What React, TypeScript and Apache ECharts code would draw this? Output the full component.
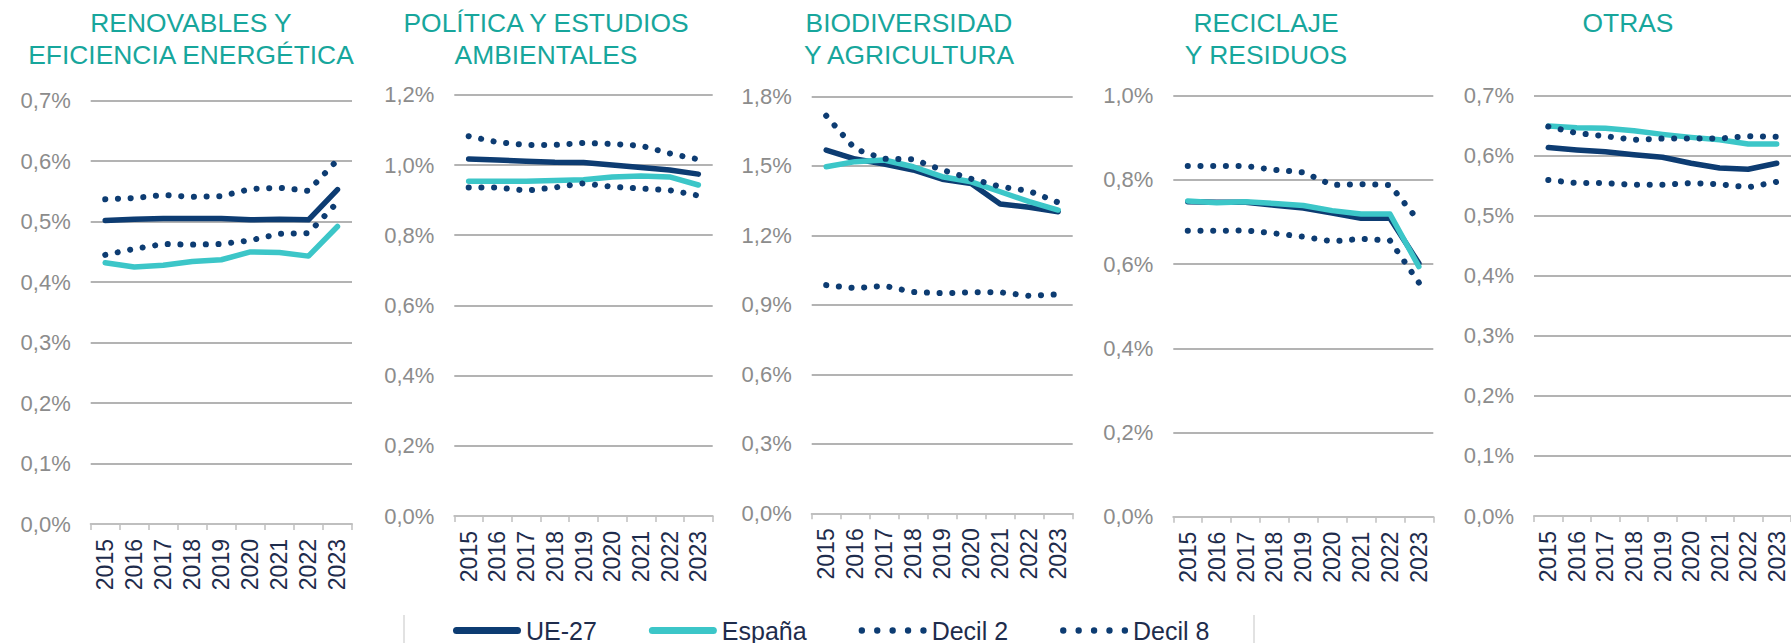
import React, { useEffect, useRef } from "react";
import * as echarts from "echarts";

const YEARS = ["2015", "2016", "2017", "2018", "2019", "2020", "2021", "2022", "2023"];
const SERIES_NAMES = ["UE-27", "España", "Decil 2", "Decil 8"];

const PANEL_TITLES = [
  ["RENOVABLES Y", "EFICIENCIA ENERGÉTICA"],
  ["POLÍTICA Y ESTUDIOS", "AMBIENTALES"],
  ["BIODIVERSIDAD", "Y AGRICULTURA"],
  ["RECICLAJE", "Y RESIDUOS"],
  ["OTRAS"],
];

// Y axis ranges (percent)
const Y_MAX = [0.7, 1.2, 1.8, 1.0, 0.7];
const Y_STEP = [0.1, 0.2, 0.3, 0.2, 0.1];

// Renovables y eficiencia energética
const renovUE = [0.502, 0.504, 0.505, 0.505, 0.505, 0.503, 0.504, 0.503, 0.553];
const renovES = [0.432, 0.425, 0.428, 0.434, 0.437, 0.45, 0.449, 0.443, 0.492];
const renovD2 = [0.537, 0.539, 0.544, 0.541, 0.542, 0.554, 0.556, 0.551, 0.602];
const renovD8 = [0.445, 0.455, 0.463, 0.462, 0.463, 0.469, 0.48, 0.481, 0.532];

// Política y estudios ambientales
const poliUE = [1.017, 1.014, 1.011, 1.008, 1.007, 1.0, 0.993, 0.986, 0.974];
const poliES = [0.954, 0.954, 0.954, 0.956, 0.958, 0.966, 0.969, 0.966, 0.943];
const poliD2 = [1.082, 1.065, 1.057, 1.057, 1.063, 1.06, 1.055, 1.033, 1.016];
const poliD8 = [0.936, 0.936, 0.927, 0.936, 0.948, 0.938, 0.933, 0.928, 0.913];

// Biodiversidad y agricultura
const bioUE = [1.568, 1.529, 1.508, 1.482, 1.442, 1.424, 1.335, 1.321, 1.302];
const bioES = [1.496, 1.518, 1.525, 1.496, 1.453, 1.431, 1.388, 1.345, 1.309];
const bioD2 = [1.716, 1.572, 1.53, 1.528, 1.482, 1.444, 1.41, 1.391, 1.342];
const bioD8 = [0.985, 0.972, 0.982, 0.955, 0.95, 0.954, 0.954, 0.939, 0.945];

// Reciclaje y residuos
const reciUE = [0.748, 0.747, 0.747, 0.74, 0.733, 0.721, 0.709, 0.709, 0.602];
const reciES = [0.75, 0.746, 0.748, 0.744, 0.739, 0.727, 0.719, 0.719, 0.594];
const reciD2 = [0.833, 0.833, 0.833, 0.824, 0.818, 0.788, 0.79, 0.788, 0.702];
const reciD8 = [0.679, 0.679, 0.68, 0.673, 0.665, 0.654, 0.66, 0.656, 0.556];

// Otras
const otrasUE = [0.613, 0.609, 0.606, 0.601, 0.597, 0.587, 0.579, 0.577, 0.587];
const otrasES = [0.649, 0.646, 0.645, 0.641, 0.635, 0.63, 0.626, 0.619, 0.619];
const otrasD2 = [0.648, 0.637, 0.632, 0.626, 0.628, 0.628, 0.628, 0.632, 0.631];
const otrasD8 = [0.559, 0.554, 0.554, 0.551, 0.551, 0.554, 0.552, 0.547, 0.556];

const PANEL_DATA = [
  [renovUE, renovES, renovD2, renovD8],
  [poliUE, poliES, poliD2, poliD8],
  [bioUE, bioES, bioD2, bioD8],
  [reciUE, reciES, reciD2, reciD8],
  [otrasUE, otrasES, otrasD2, otrasD8],
];

// layout (pixels)
const W = 1791;
const H = 643;
const GRIDS = [
  { left: 90.7, right: 352, top: 100.7, bottom: 524 },
  { left: 454.3, right: 712.7, top: 94.8, bottom: 516 },
  { left: 811.7, right: 1072.7, top: 96.3, bottom: 513.3 },
  { left: 1173.3, right: 1433.3, top: 95.7, bottom: 516.7 },
  { left: 1534, right: 1795, top: 95.3, bottom: 516 },
];
const TITLE_X = [191, 546, 909, 1266, 1628];

const NAVY = "#0d3c72";
const TEAL = "#3cc6c8";
const TITLE_COLOR = "#17a69c";
const FONT = "'Liberation Sans', Arial, sans-serif";

const SOLID_ICON = "path://M3.5,0 H64.5 A3.5,3.5 0 0 1 64.5,7 H3.5 A3.5,3.5 0 0 1 3.5,0 Z";
const DOT_ICON =
  "path://" +
  [3, 17.5, 32, 46.5, 61]
    .map((cx) => `M${cx - 3},3 a3,3 0 1,0 6,0 a3,3 0 1,0 -6,0 Z`)
    .join(" ");

export default function App() {
  const ref = useRef<HTMLDivElement>(null);

  useEffect(() => {
    document.body.style.margin = "0";
    if (!ref.current) return;
    const chart = echarts.init(ref.current, null, { renderer: "svg" });

    const grid = GRIDS.map((g) => ({
      left: g.left,
      right: W - g.right,
      top: g.top,
      bottom: H - g.bottom,
      containLabel: false,
    }));

    const xAxis = GRIDS.map((_, i) => ({
      type: "category",
      gridIndex: i,
      data: YEARS,
      boundaryGap: true,
      axisLine: { show: true, lineStyle: { color: "#bfbfbf", width: 2 } },
      axisTick: { show: true, length: 6, lineStyle: { color: "#bfbfbf", width: 1.5 } },
      axisLabel: {
        rotate: 90,
        margin: 15,
        color: "#1e2c4c",
        fontSize: 23,
        fontFamily: FONT,
        interval: 0,
      },
      splitLine: { show: false },
    }));

    const yAxis = GRIDS.map((_, i) => ({
      type: "value",
      gridIndex: i,
      min: 0,
      max: Y_MAX[i],
      interval: Y_STEP[i],
      axisLine: { show: false },
      axisTick: { show: false },
      axisLabel: {
        margin: 20,
        color: "#8c8c8c",
        fontSize: 22,
        fontFamily: FONT,
        formatter: (v: number) => v.toFixed(1).replace(".", ",") + "%",
      },
      splitLine: { show: true, lineStyle: { color: "#b3b3b3", width: 2 } },
    }));

    const series: any[] = [];
    PANEL_DATA.forEach((arrs, i) => {
      arrs.forEach((values, s) => {
        const dotted = s >= 2;
        const color = s === 1 ? TEAL : NAVY;
        series.push({
          type: "line",
          name: SERIES_NAMES[s],
          xAxisIndex: i,
          yAxisIndex: i,
          data: values,
          showSymbol: false,
          symbol: "none",
          color,
          lineStyle: dotted
            ? { color, width: 6, type: [0.1, 12.6], cap: "round" }
            : { color, width: 5.5, cap: "round", join: "round" },
          z: dotted ? 4 : 3,
          silent: true,
        });
      });
    });

    const graphic: any[] = [];
    PANEL_TITLES.forEach((lines, i) => {
      lines.forEach((line, j) => {
        graphic.push({
          type: "text",
          x: TITLE_X[i],
          y: 23 + j * 32,
          style: {
            text: line,
            fill: TITLE_COLOR,
            font: `26.4px ${FONT}`,
            textAlign: "center",
            textVerticalAlign: "middle",
          },
        });
      });
    });
    [404, 1254].forEach((x) => {
      graphic.push({
        type: "line",
        shape: { x1: x, y1: 615, x2: x, y2: 643 },
        style: { stroke: "#d9d9d9", lineWidth: 1.5 },
      });
    });

    chart.setOption({
      animation: false,
      backgroundColor: "#ffffff",
      grid,
      xAxis,
      yAxis,
      series,
      graphic,
      legend: {
        left: 453,
        top: 618,
        padding: 0,
        itemWidth: 68,
        itemHeight: 7,
        itemGap: 52,
        selectedMode: false,
        itemStyle: { borderWidth: 0 },
        textStyle: { fontSize: 25, color: "#1e2c4c", fontFamily: FONT },
        data: [
          { name: "UE-27", icon: SOLID_ICON },
          { name: "España", icon: SOLID_ICON },
          { name: "Decil 2", icon: DOT_ICON },
          { name: "Decil 8", icon: DOT_ICON },
        ],
      },
    });

    return () => chart.dispose();
  }, []);

  return (
    <div
      ref={ref}
      style={{ position: "absolute", left: 0, top: 0, width: W, height: H }}
    />
  );
}
